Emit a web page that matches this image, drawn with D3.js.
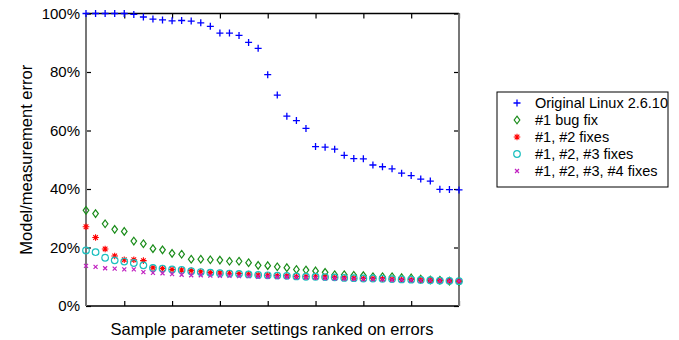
<!DOCTYPE html>
<html>
<head>
<meta charset="utf-8">
<script src="https://cdn.jsdelivr.net/npm/d3@7"></script>
<style>
  html, body { margin: 0; padding: 0; background: #fff; }
  svg { display: block; font-family: "Liberation Sans", Arial, sans-serif; }
</style>
</head>
<body>
<svg id="chart" width="679" height="340"></svg>
<script>
// ---- data (percent values, index = rank 1..40) ----
const seriesNames = ["Original Linux 2.6.10", "#1 bug fix", "#1, #2 fixes", "#1, #2, #3 fixes", "#1, #2, #3, #4 fixes"];
const original = [100,100,100,100,100,99.7,98.8,98.1,97.8,97.5,97.6,97.4,96.8,95.6,93.3,93.3,92.5,90.1,88.1,79.1,72.1,64.9,63.4,60.7,54.5,54.3,53.6,51.5,50.4,50.3,48.2,47.6,46.9,45.4,44.6,43.4,42.7,39.9,39.8,39.7];
const fix1 = [32.7,31.6,28.1,26.2,25.5,22.2,21.3,19.6,19.2,18.0,17.7,16.0,16.0,15.8,15.7,15.3,15.3,14.8,13.9,13.8,13.4,13.1,12.5,12.3,12.0,11.5,10.7,10.7,10.5,10.4,10.0,10.0,10.0,9.7,9.6,9.2,8.9,8.8,8.5,8.4];
const fix12 = [27.1,23.4,19.5,17.1,15.8,15.8,15.5,13.1,12.8,12.5,12.3,12.1,11.7,11.5,11.3,11.2,11.1,10.9,10.6,10.5,10.4,10.3,10.1,10.0,10.0,9.9,9.8,9.6,9.5,9.4,9.4,9.3,9.2,9.1,9.0,8.9,8.8,8.7,8.6,8.5];
const fix123 = [19.0,18.4,16.5,15.6,15.2,14.7,13.9,13.0,12.8,12.5,12.3,11.9,11.6,11.4,11.2,11.1,11.0,10.8,10.6,10.5,10.4,10.3,10.1,10.0,10.0,9.9,9.8,9.6,9.5,9.4,9.4,9.3,9.2,9.1,9.0,8.9,8.8,8.7,8.6,8.5];
const fix1234 = [13.7,13.4,12.9,12.8,12.5,12.5,11.6,11.3,11.2,10.9,10.7,10.5,10.5,10.4,10.3,10.3,10.2,10.2,10.0,10.0,9.9,9.9,9.8,9.7,9.6,9.5,9.4,9.3,9.2,9.1,9.1,9.0,8.9,8.9,8.8,8.7,8.7,8.6,8.6,8.5];
const xTicks = [5,10,15,20,25,30,35,40];
const yTicks = [0,20,40,60,80,100];

// ---- layout ----
const svg = d3.select("#chart");
const L = 86, R = 459, T = 13.5, B = 306;
const x = d3.scaleLinear().domain([1,40]).range([L,R]);
const y = d3.scaleLinear().domain([0,100]).range([B,T]);

const styles = [
  {color:"#0000ff", shape:"plus"},
  {color:"#1a8c1a", shape:"diamond"},
  {color:"#ff0000", shape:"star"},
  {color:"#1cbfbf", shape:"circle"},
  {color:"#c020c0", shape:"cross"}
];
function shapePath(s) {
  switch (s) {
    case "plus": return "M-3.5,0H3.5M0,-3.5V3.5";
    case "diamond": return "M0,-3.8L2.8,0L0,3.8L-2.8,0Z";
    case "star": return "M-3.3,0H3.3M0,-3.3V3.3M-2.3,-2.3L2.3,2.3M-2.3,2.3L2.3,-2.3";
    case "circle": return "M3.3,0A3.3,3.3 0 1,1 -3.3,0A3.3,3.3 0 1,1 3.3,0Z";
    case "cross": return "M-2,-2L2,2M-2,2L2,-2";
  }
}
function shapeWidth(s) { return s === "star" ? 1.1 : (s === "plus" ? 1.3 : 1.2); }

// ---- axes ----
const axL = svg.append("g").attr("transform", `translate(${L},0)`)
  .call(d3.axisLeft(y).tickValues(yTicks).tickFormat(d => d + "%").tickSizeInner(-5).tickSizeOuter(0).tickPadding(6));
const axR = svg.append("g").attr("transform", `translate(${R},0)`)
  .call(d3.axisRight(y).tickValues(yTicks).tickFormat("").tickSizeInner(-5).tickSizeOuter(0));
const axB = svg.append("g").attr("transform", `translate(0,${B})`)
  .call(d3.axisBottom(x).tickValues(xTicks).tickFormat("").tickSizeInner(-5).tickSizeOuter(0));
const axT = svg.append("g").attr("transform", `translate(0,${T})`)
  .call(d3.axisTop(x).tickValues(xTicks).tickFormat("").tickSizeInner(-5).tickSizeOuter(0));
[axL, axR, axB, axT].forEach(g => {
  g.select(".domain").remove();
  g.selectAll(".tick line").attr("stroke", "#000").attr("stroke-width", 1.2);
  g.selectAll("text").attr("font-size", 15).attr("fill", "#000")
    .style("font-family", '"Liberation Sans", Arial, sans-serif');
});
// frame
svg.append("line").attr("x1", L).attr("x2", R).attr("y1", T).attr("y2", T).attr("stroke", "#000").attr("stroke-width", 1.3);
svg.append("line").attr("x1", L).attr("x2", R).attr("y1", B).attr("y2", B).attr("stroke", "#000").attr("stroke-width", 1.3);
svg.append("line").attr("x1", L).attr("x2", L).attr("y1", T).attr("y2", B).attr("stroke", "#777").attr("stroke-width", 2);
svg.append("line").attr("x1", R).attr("x2", R).attr("y1", T).attr("y2", B).attr("stroke", "#777").attr("stroke-width", 2);

// ---- points ----
const allSeries = [original, fix1, fix12, fix123, fix1234];
allSeries.forEach((vals, si) => {
  const st = styles[si];
  svg.append("g").selectAll("path").data(vals).join("path")
    .attr("transform", (d, i) => `translate(${x(i + 1)},${y(d)})`)
    .attr("d", shapePath(st.shape))
    .attr("fill", "none")
    .attr("stroke", st.color)
    .attr("stroke-width", shapeWidth(st.shape));
});

// ---- axis titles ----
svg.append("text").attr("x", (L + R) / 2 - 0.5).attr("y", 335).attr("text-anchor", "middle")
  .attr("font-size", 16.5).text("Sample parameter settings ranked on errors");
svg.append("text").attr("transform", `translate(32,${(T + B) / 2}) rotate(-90)`).attr("text-anchor", "middle")
  .attr("font-size", 16.5).text("Model/measurement error");

// ---- legend ----
const lg = svg.append("g");
const lgTop = 92, lgBottom = 187, lgLeft = 497, lgRight = 668;
lg.append("rect").attr("x", lgLeft).attr("y", lgTop).attr("width", lgRight - lgLeft).attr("height", lgBottom - lgTop)
  .attr("fill", "#fff").attr("stroke", "#000").attr("stroke-width", 1);
const rowY = d3.scalePoint().domain(seriesNames).range([103, 171]);
seriesNames.forEach((name, i) => {
  const st = styles[i];
  lg.append("path").attr("transform", `translate(517,${rowY(name)})`)
    .attr("d", shapePath(st.shape)).attr("fill", "none").attr("stroke", st.color)
    .attr("stroke-width", shapeWidth(st.shape));
  lg.append("text").attr("x", 535).attr("y", rowY(name)).attr("dy", "0.35em")
    .attr("font-size", 14.5).text(name);
});
</script>
</body>
</html>
